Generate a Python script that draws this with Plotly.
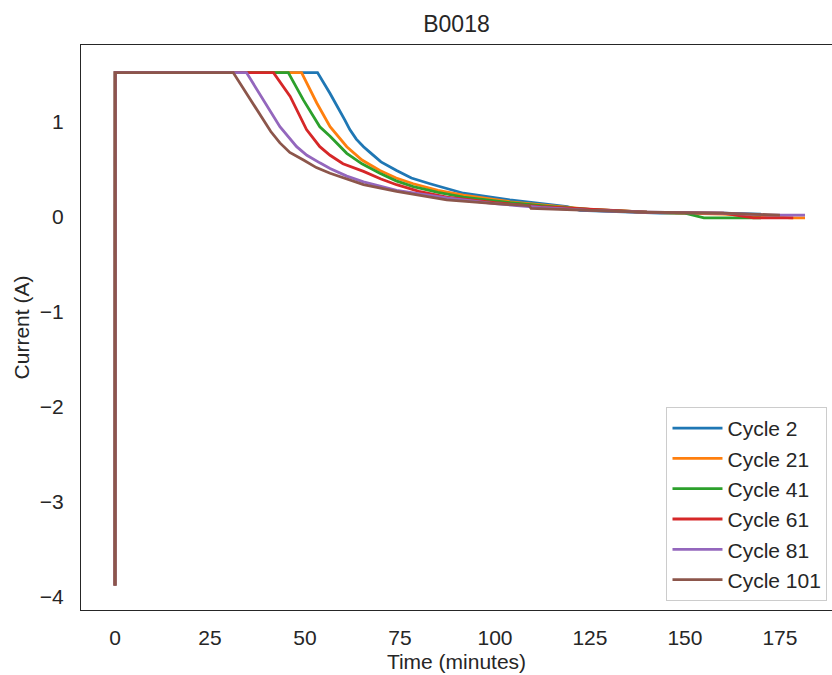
import plotly.graph_objects as go

# ---- data ----
cycle_names = ["Cycle 2", "Cycle 21", "Cycle 41", "Cycle 61", "Cycle 81", "Cycle 101"]
colors = ["#1f77b4", "#ff7f0e", "#2ca02c", "#d62728", "#9467bd", "#8c564b"]

t_c2 = [0, 0.05, 53.3, 56.6, 60.5, 61.8, 63.5, 65.4, 67.1, 70, 74.1, 78, 82.9, 91.7, 103.9, 112, 119, 122.4, 143.4, 160, 170]
i_c2 = [-3.88, 1.52, 1.52, 1.30, 1.02, 0.92, 0.82, 0.74, 0.68, 0.58, 0.49, 0.41, 0.35, 0.25, 0.18, 0.14, 0.11, 0.07, 0.04, 0.04, 0.03]

t_c21 = [0, 0.05, 49.1, 53.1, 56.6, 61.0, 65, 69.7, 74, 78.5, 85, 91.7, 104, 115, 125, 140, 160, 170, 178, 181.6]
i_c21 = [-3.88, 1.52, 1.52, 1.20, 0.95, 0.74, 0.60, 0.49, 0.41, 0.35, 0.28, 0.23, 0.16, 0.12, 0.08, 0.05, 0.03, 0.01, -0.01, -0.01]

t_c41 = [0, 0.05, 45.6, 49.6, 53.9, 56.6, 61.0, 65, 69.7, 74, 78.5, 85, 91.7, 104, 115, 125, 140, 150, 155, 170]
i_c41 = [-3.88, 1.52, 1.52, 1.23, 0.95, 0.85, 0.67, 0.56, 0.46, 0.38, 0.32, 0.26, 0.21, 0.15, 0.11, 0.08, 0.05, 0.04, -0.01, -0.01]

t_c61 = [0, 0.05, 41.7, 46.1, 50.4, 53.9, 56.6, 60, 65.4, 70, 74.1, 80, 87.3, 100, 112, 125, 140, 160, 168, 178.5]
i_c61 = [-3.88, 1.52, 1.52, 1.27, 0.92, 0.74, 0.65, 0.56, 0.48, 0.40, 0.34, 0.27, 0.21, 0.15, 0.11, 0.08, 0.05, 0.04, -0.01, -0.01]

t_c81 = [0, 0.05, 34.6, 39.0, 43.4, 47.8, 50.5, 53.9, 56.6, 61, 65.4, 74.1, 87.3, 100, 112, 125, 140, 160, 172, 181.6]
i_c81 = [-3.88, 1.52, 1.52, 1.23, 0.95, 0.74, 0.65, 0.57, 0.51, 0.43, 0.37, 0.28, 0.20, 0.14, 0.10, 0.07, 0.05, 0.04, 0.02, 0.02]

t_c101 = [0, 0.05, 31.1, 34.6, 39.0, 41, 43.4, 46, 49.6, 53, 56.6, 61, 65.4, 74.1, 87.3, 100, 109, 109.5, 125, 140, 160, 175]
i_c101 = [-3.88, 1.52, 1.52, 1.30, 1.02, 0.90, 0.78, 0.68, 0.60, 0.52, 0.46, 0.40, 0.34, 0.27, 0.18, 0.14, 0.12, 0.09, 0.07, 0.05, 0.04, 0.02]

times = [t_c2, t_c21, t_c41, t_c61, t_c81, t_c101]
currents = [i_c2, i_c21, i_c41, i_c61, i_c81, i_c101]

x_ticks = [0, 25, 50, 75, 100, 125, 150, 175]
y_ticks = [-4, -3, -2, -1, 0, 1]

FONT = "Liberation Sans, Arial, sans-serif"
TXT = "#262626"

fig = go.Figure()
for name, col, tt, ii in zip(cycle_names, colors, times, currents):
    fig.add_trace(go.Scatter(x=tt, y=ii, mode="lines", name=name,
                             line=dict(color=col, width=2.8)))

fig.update_layout(
    width=832, height=675,
    margin=dict(l=81, r=0, t=45, b=65),
    paper_bgcolor="white", plot_bgcolor="white",
    font=dict(family=FONT, size=21, color=TXT),
    title=dict(text="B0018", x=0.5, xref="paper", y=1 - 24 / 675, yref="container",
               xanchor="center", yanchor="middle", font=dict(size=23, color=TXT)),
    showlegend=True,
    legend=dict(x=0.994, y=0.016, xanchor="right", yanchor="bottom",
                bgcolor="white", bordercolor="#cccccc", borderwidth=1,
                font=dict(size=21, color=TXT), itemwidth=50),
)
fig.update_xaxes(range=[-8.95, 188.7], tickvals=x_ticks, showgrid=False, zeroline=False,
                 showline=True, mirror=True, linecolor="#262626", linewidth=1.3,
                 ticks="", ticklabelstandoff=9,
                 title=dict(text="Time (minutes)", standoff=5, font=dict(size=21)))
fig.update_yaxes(range=[-4.137, 1.8105], tickvals=y_ticks, showgrid=False, zeroline=False,
                 showline=True, mirror=True, linecolor="#262626", linewidth=1.3,
                 ticks="", ticklabelstandoff=12,
                 title=dict(text="Current (A)", standoff=4, font=dict(size=21)))

fig.write_html("out.html")
